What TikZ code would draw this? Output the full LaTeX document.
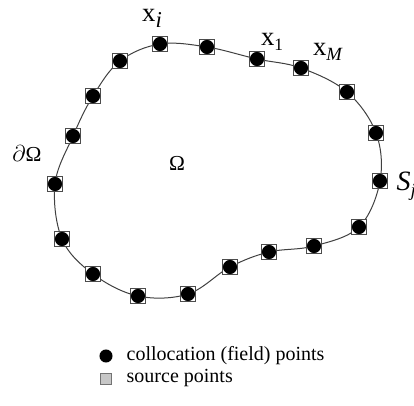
\documentclass[tikz,border=0pt]{standalone}
\usepackage{fontspec}
\setmainfont{Liberation Serif}
\begin{document}
\begin{tikzpicture}[x=0.75pt,y=-0.75pt,
      kotak/.style={draw=black!70,fill=white,line width=0.8pt,inner sep=0pt,minimum size=11.5pt},
      titik/.style={circle,fill=black,inner sep=0pt,minimum size=10.6pt},
      sumber/.style={draw=black!55,fill=black!22,inner sep=0pt,minimum size=8.5pt},
      teks/.style={font=\fontsize{20}{24}\selectfont},
      idx/.style={font=\fontsize{13}{15}\selectfont}]
    \useasboundingbox (0,0) rectangle (414,406);
    % Label
    \node[teks,inner sep=0.5pt] (xi) at (152,18) {x\raisebox{-0.5ex}{\fontsize{17}{20}\selectfont\textit{i}}};
    \node[teks] (x1) at (272,42) {x\raisebox{-0.45ex}{\fontsize{13}{15}\selectfont 1}};
    \node[teks] (xM) at (328,52) {x\raisebox{-0.45ex}{\fontsize{14}{16}\selectfont\textit{M}}};
    \node[font=\fontsize{16}{19}\selectfont] (dO) at (27,154) {$\partial$Ω};
    \node[font=\fontsize{16}{19}\selectfont] (O) at (177,163) {Ω};
    \node[font=\fontsize{21}{24}\selectfont,anchor=west] (Sj) at (392,186) {\textit{S}\raisebox{-0.45ex}{\fontsize{14}{16}\selectfont\textit{j}}};
    % Titik-titik pada batas
    \foreach \n/\a/\b in {1/160/44,2/207/47,3/257/59,4/301/68,5/347/92,
        6/376/133,7/380/181,8/359/227,9/314/246,10/269/252,11/230/267,
        12/188/294,13/138/296,14/93/274,15/62/239,16/55/184,17/73/136,
        18/93/96,19/120/61}
      \coordinate (p\n) at (\a,\b);
    % Kurva batas
    \draw[black!75,line width=0.75pt] plot[smooth cycle,tension=0.6] coordinates
      {(p1) (p2) (p3) (p4) (p5) (p6) (p7) (p8) (p9) (p10) (p11) (p12) (p13)
       (p14) (p15) (p16) (p17) (p18) (p19)};
    \foreach \n in {1,...,19} {
      \node[kotak] (s\n) at (p\n) {};
      \node[titik] (c\n) at (p\n) {};
    }
    % Legenda
    \node[titik,minimum size=9.8pt] (lg1) at (106,356) {};
    \node[anchor=west,font=\fontsize{15}{18}\selectfont] (lt1) at (122,356) {collocation (field) points};
    \node[sumber] (lg2) at (106,379) {};
    \node[anchor=west,font=\fontsize{15}{18}\selectfont] (lt2) at (122,378) {source points};
  \end{tikzpicture}
\end{document}
